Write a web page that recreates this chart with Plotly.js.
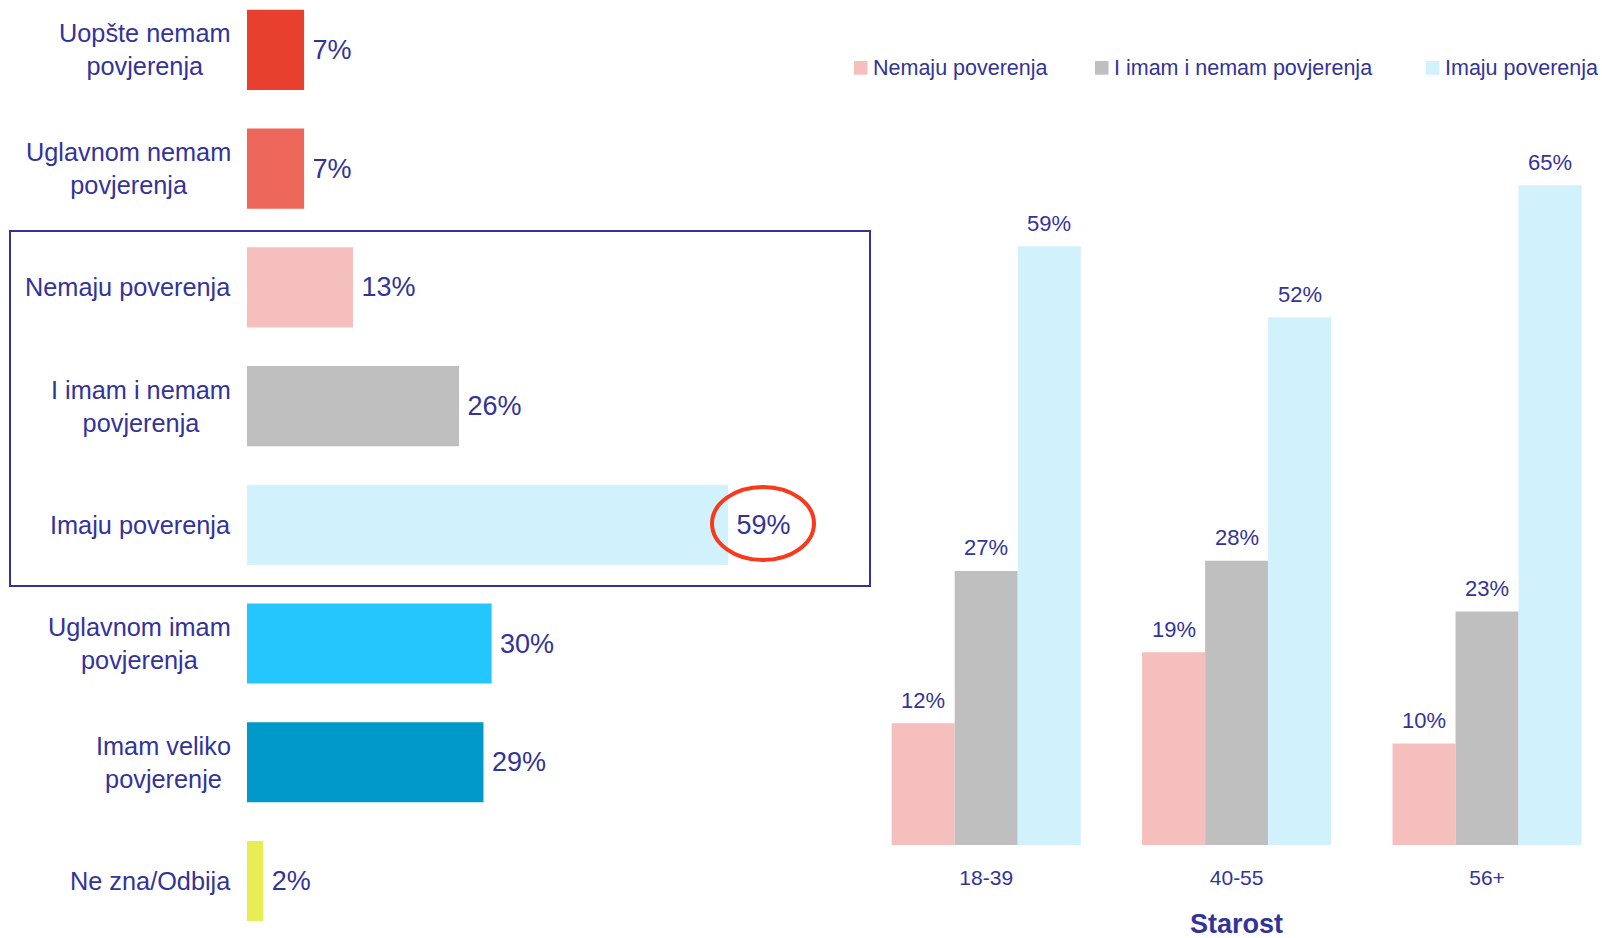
<!DOCTYPE html>
<html>
<head>
<meta charset="utf-8">
<script src="https://cdn.plot.ly/plotly-3.0.1.min.js"></script>
<style>html,body{margin:0;padding:0;background:#fff;}#chart{width:1602px;height:938px;}</style>
</head>
<body>
<div id="chart"></div>
<script>
// ---- Data ----
const trustCategories = [
  'Uopšte nemam<br>povjerenja',
  'Uglavnom nemam<br>povjerenja',
  'Nemaju poverenja',
  'I imam i nemam<br>povjerenja',
  'Imaju poverenja',
  'Uglavnom imam<br>povjerenja',
  'Imam veliko<br>povjerenje',
  'Ne zna/Odbija'
];
const trustValues = [7, 7, 13, 26, 59, 30, 29, 2];
const trustColors = ['#E8402F', '#EC665A', '#F5BFBD', '#BFBFBF', '#D1F1FC', '#25C6FD', '#0099C9', '#E8EC55'];

const ageGroups = ['18-39', '40-55', '56+'];
const seriesNames = ['Nemaju poverenja', 'I imam i nemam povjerenja', 'Imaju poverenja'];
const nemajuValues = [12, 19, 10];
const iImamValues = [27, 28, 23];
const imajuValues = [59, 52, 65];
const seriesColors = ['#F5BFBD', '#BFBFBF', '#D1F1FC'];
const axisTitle = 'Starost';

// ---- Styles / layout constants ----
const FONT = 'Liberation Sans, Arial, Helvetica, sans-serif';
const TXT = '#333399';
const W = 1602, H = 938;
const X2_DOMAIN = [861 / W, 1];
const X2_RANGE = [-0.5, 2.459];
const BARGAP = 0.245;
const pxPerUnit = (X2_DOMAIN[1] - X2_DOMAIN[0]) * W / (X2_RANGE[1] - X2_RANGE[0]);
const barPx = (1 - BARGAP) / 3 * pxPerUnit;

const traces = [];
traces.push({
  type: 'bar', orientation: 'h',
  y: trustCategories, x: trustValues,
  marker: {color: trustColors, line: {width: 0}},
  width: 0.675,
  texttemplate: '\u2009%{x}%', textposition: 'outside', constraintext: 'none',
  textfont: {family: FONT, size: 27, color: TXT},
  cliponaxis: false, showlegend: false, hoverinfo: 'skip',
  xaxis: 'x', yaxis: 'y'
});
const rightSeries = [nemajuValues, iImamValues, imajuValues];
rightSeries.forEach((vals, i) => {
  traces.push({
    type: 'bar', x: ageGroups, y: vals, name: seriesNames[i],
    marker: {color: seriesColors[i], line: {width: 0}},
    showlegend: false, hoverinfo: 'skip',
    xaxis: 'x2', yaxis: 'y2'
  });
});

const annotations = trustCategories.map(c => ({
  text: c, xref: 'paper', yref: 'y', x: 233 / W, y: c,
  xanchor: 'right', yanchor: 'middle', align: 'center', showarrow: false,
  font: {family: FONT, size: 25.3, color: TXT}
}));
// value labels above grouped bars
rightSeries.forEach((vals, i) => {
  vals.forEach((v, j) => {
    annotations.push({
      text: v + '%', xref: 'x2', yref: 'y2', x: ageGroups[j], y: v,
      xshift: (i - 1) * barPx, yshift: 23, xanchor: 'center', yanchor: 'middle',
      showarrow: false, font: {family: FONT, size: 22, color: TXT}
    });
  });
});
annotations.push({
  text: '<b>' + axisTitle + '</b>', xref: 'x2', yref: 'paper', x: ageGroups[1], y: 1 - 924 / H,
  xanchor: 'center', yanchor: 'middle', showarrow: false,
  font: {family: FONT, size: 27, color: TXT}
});

// legend (drawn as swatches + text)
const legendSwatchX = [854, 1095, 1426];
const legendTextX = [870.5, 1111.5, 1443];
const shapes = [
  {type: 'rect', xref: 'paper', yref: 'paper', x0: 10 / W, x1: 870 / W, y0: 1 - 586 / H, y1: 1 - 231 / H,
    line: {color: '#333399', width: 2}, fillcolor: 'rgba(0,0,0,0)'},
  {type: 'circle', xref: 'paper', yref: 'paper', x0: 712 / W, x1: 814 / W, y0: 1 - 560 / H, y1: 1 - 487 / H,
    line: {color: '#F8391C', width: 4}, fillcolor: 'rgba(0,0,0,0)'}
];
seriesNames.forEach((n, i) => {
  shapes.push({type: 'rect', xref: 'paper', yref: 'paper',
    x0: legendSwatchX[i] / W, x1: (legendSwatchX[i] + 13.5) / W, y0: 1 - 74.7 / H, y1: 1 - 61 / H,
    line: {width: 0}, fillcolor: seriesColors[i]});
  annotations.push({text: n, xref: 'paper', yref: 'paper', x: legendTextX[i] / W, y: 1 - 68 / H,
    xanchor: 'left', yanchor: 'middle', showarrow: false,
    font: {family: FONT, size: 21.5, color: TXT}});
});

const layout = {
  width: W, height: H,
  margin: {l: 0, r: 0, t: 0, b: 0, pad: 0},
  paper_bgcolor: '#ffffff', plot_bgcolor: 'rgba(0,0,0,0)',
  font: {family: FONT, color: TXT},
  barmode: 'group', bargap: BARGAP, bargroupgap: 0,
  showlegend: false,
  xaxis: {domain: [247 / W, 870 / W], range: [0, 76.4], visible: false, fixedrange: true},
  yaxis: {domain: [0, 1], type: 'category', categoryarray: trustCategories, range: [7.48, -0.42], visible: false, fixedrange: true},
  xaxis2: {domain: X2_DOMAIN, range: X2_RANGE, anchor: 'y2', type: 'category',
    showline: false, showgrid: false, zeroline: false, ticks: '', ticklabelstandoff: 18,
    tickfont: {family: FONT, size: 21, color: TXT}, fixedrange: true},
  yaxis2: {domain: [1 - 845 / H, 1], range: [0, 83.25], anchor: 'x2', visible: false, fixedrange: true},
  shapes: shapes,
  annotations: annotations
};

Plotly.newPlot('chart', traces, layout, {displayModeBar: false, staticPlot: true});
</script>
</body>
</html>
